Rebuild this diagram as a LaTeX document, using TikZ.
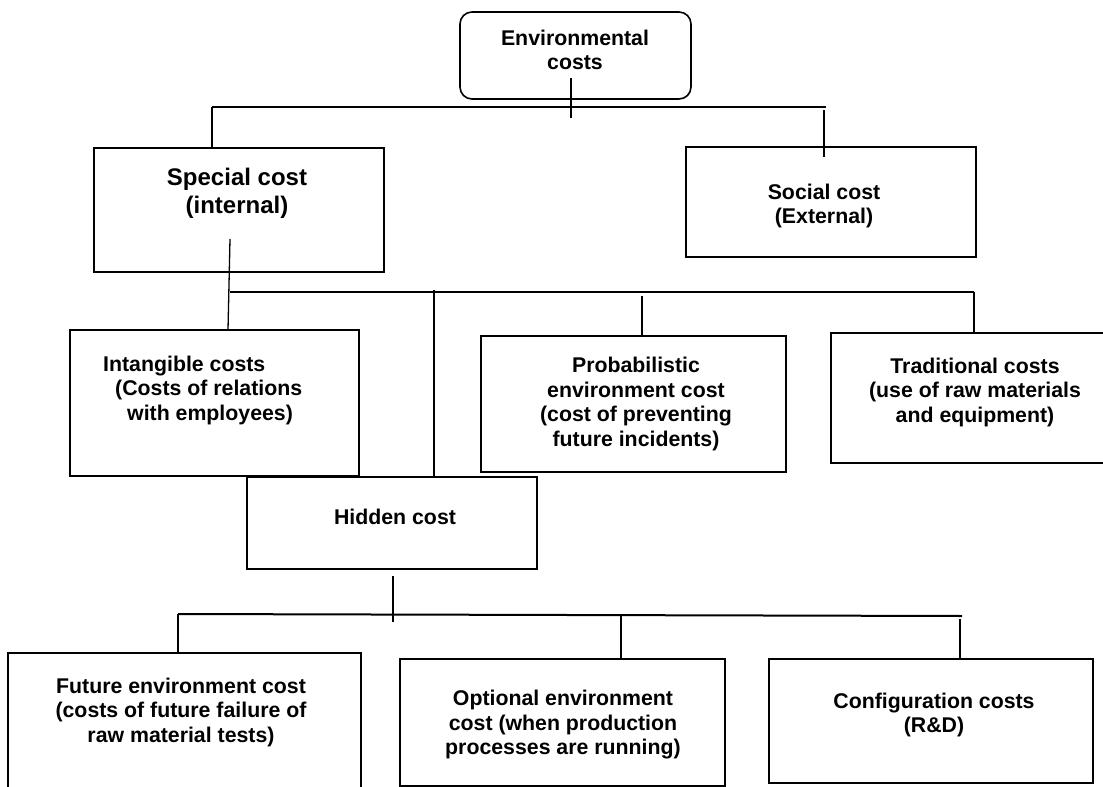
\documentclass[tikz,border=0pt]{standalone}
\usepackage{fontspec}
\setmainfont{Liberation Sans}
\usepackage{tikz}

\tikzset{
  box/.style={draw, line width=1.6pt, inner sep=0pt},
  txt/.style={font=\fontsize{21.3}{24.5}\selectfont\bfseries, align=center, inner sep=0pt},
  bigtxt/.style={font=\fontsize{24}{28}\selectfont\bfseries, align=center, inner sep=0pt},
  link/.style={line width=1.3pt},
  bar/.style={line width=2pt}
}

\begin{document}
\begin{tikzpicture}[x=1pt, y=-1pt]
\useasboundingbox (0,0) rectangle (1103,787);

% the boxes, by their centres and sizes
\node[box, rounded corners=12pt, minimum width=231pt, minimum height=87pt] (root) at (575.5,55.5) {};
\node[box, minimum width=290pt, minimum height=124pt] (spec) at (239,210) {};
\node[box, minimum width=290pt, minimum height=110pt] (soc)  at (831,202) {};
\node[box, minimum width=289pt, minimum height=146pt] (intg) at (214.5,403) {};
\node[box, minimum width=305pt, minimum height=136pt] (prob) at (633.5,404) {};
\node[box, minimum width=279pt, minimum height=130pt] (trad) at (970.5,398) {};
\node[box, minimum width=290pt, minimum height=92pt]  (hid)  at (392,523) {};
\node[box, minimum width=353pt, minimum height=137pt] (fut)  at (184.5,721.5) {};
\node[box, minimum width=325pt, minimum height=127pt] (opt)  at (562.5,722.5) {};
\node[box, minimum width=324pt, minimum height=124pt] (conf) at (931,721) {};

% the texts
\node[txt] (rootT) at (575,50) {Environmental\\costs};
\node[bigtxt] (specT) at (237,193) {Special cost\\(internal)};
\node[txt] (socT) at (824,206) {Social cost\\(External)};
\node[txt, align=left, anchor=west] (intgT) at (103,390)
  {Intangible costs\\\hspace*{12pt}(Costs of relations\\\hspace*{24pt}with employees)};
\node[txt] (probT) at (636,404) {Probabilistic\\environment cost\\(cost of preventing\\future incidents)};
\node[txt] (tradT) at (975,392) {Traditional costs\\(use of raw materials\\and equipment)};
\node[txt] (hidT) at (395,517) {Hidden cost};
\node[txt] (futT) at (181,712) {Future environment cost\\(costs of future failure of\\raw material tests)};
\node[txt] (optT) at (563,725) {Optional environment\\cost (when production\\processes are running)};
\node[txt] (confT) at (934,715) {Configuration costs\\(R\&D)};

% junction points
\coordinate (r1) at (571,78);
\coordinate (r2) at (571,118);
\coordinate (b1l) at (212,107);
\coordinate (b1r) at (826,107);
\coordinate (s1) at (824,110);
\coordinate (s2) at (824,157);
\coordinate (p1) at (230,239);
\coordinate (p2) at (228,330);
\coordinate (b2l) at (230,292);
\coordinate (b2r) at (974,292);
\coordinate (h0) at (434,290);
\coordinate (q1) at (642,296);
\coordinate (h1) at (393,576);
\coordinate (h2) at (393,622);
\coordinate (b3l) at (178,614);
\coordinate (b3r) at (962,616);
\coordinate (o1) at (621,614);
\coordinate (c1) at (960,619);

% first level
\draw[link] (r1) -- (r2);
\draw[bar] (b1l) -- (b1r);
\draw[link] (b1l) -- (b1l |- spec.north);
\draw[link] (s1) -- (s2);

% second level
\draw[link] (p1) -- (p2);
\draw[bar] (b2l) -- (b2r);
\draw[link] (b2r) -- (b2r |- trad.north);
\draw[link] (h0) -- (h0 |- hid.north);
\draw[link] (q1) -- (q1 |- prob.north);

% third level
\draw[link] (h1) -- (h2);
\draw[bar] (b3l) -- (b3r);
\draw[link] (b3l) -- (b3l |- fut.north);
\draw[link] (o1) -- (o1 |- opt.north);
\draw[link] (c1) -- (c1 |- conf.north);

\end{tikzpicture}
\end{document}
